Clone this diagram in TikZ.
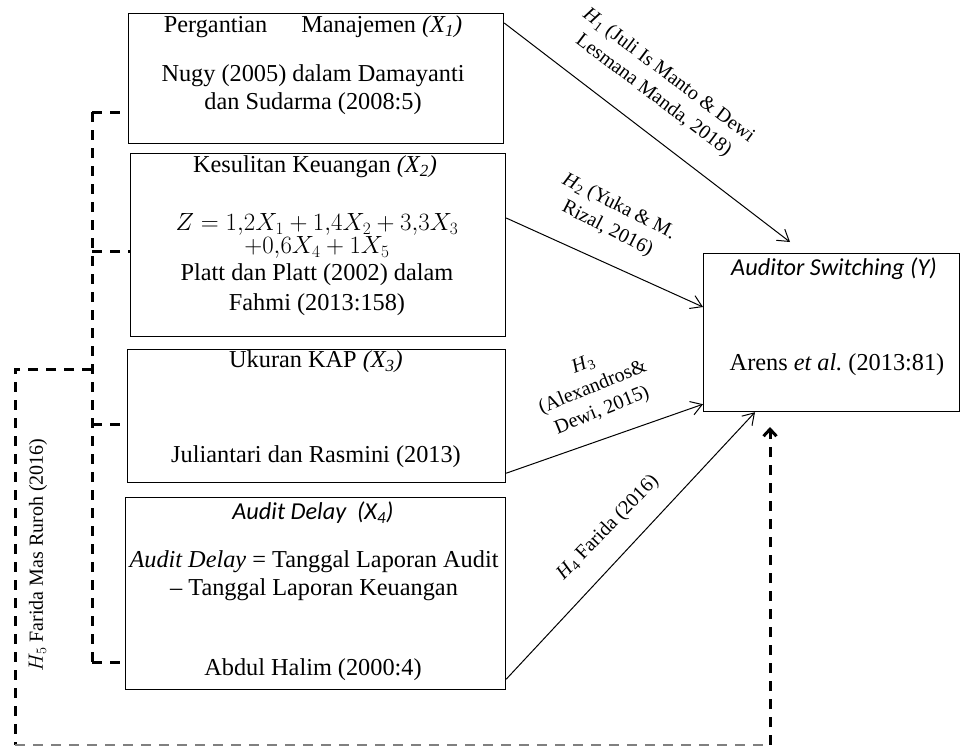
\documentclass[tikz,border=0pt]{standalone}
\usepackage{fontspec}
\setmainfont{Liberation Serif}
\newfontfamily\carl{Carlito}
\usetikzlibrary{arrows.meta}
\begin{document}
\begin{tikzpicture}[x=1pt,y=-1pt,
  box/.style={draw, line width=1.2pt, inner sep=0pt, anchor=north west},
  txt/.style={font=\fontsize{24.3}{28}\selectfont, align=center, inner sep=0pt},
  sanstxt/.style={font=\fontsize{24.3}{28}\selectfont\carl\itshape, align=center, inner sep=0pt},
  lbl/.style={font=\fontsize{20}{25}\selectfont, align=center, inner sep=0pt},
  arr/.style={-{Straight Barb[length=11pt,width=14pt]}, line width=1pt},
  dsh/.style={line width=3pt, dash pattern=on 10pt off 8pt}]
\useasboundingbox (0,0) rectangle (960,748);

% boxes
\node[box, minimum width=375pt, minimum height=130pt] (b1) at (128,13) {};
\node[box, minimum width=375pt, minimum height=183pt] (b2) at (130,153) {};
\node[box, minimum width=378pt, minimum height=133pt] (b3) at (127,349) {};
\node[box, minimum width=380pt, minimum height=192pt] (b4) at (125,497) {};
\node[box, minimum width=256pt, minimum height=158pt] (y) at (703,253) {};

% box texts
\node[txt] (b1t) at (313,27) {Pergantian\hspace{34pt}Manajemen \textit{(X\textsubscript{1})}};
\node[txt] (b1s) at (313,90) {Nugy (2005) dalam Damayanti\\dan Sudarma (2008:5)};

\node[txt] (b2t) at (315,167) {Kesulitan Keuangan \textit{(X\textsubscript{2})}};
\node[txt, font=\fontsize{24.3}{23}\selectfont] (b2f) at (317,236) {$Z = 1{,}2X_1 + 1{,}4X_2 + 3{,}3X_3$\\$+0{,}6X_4 + 1X_5$};
\node[txt, font=\fontsize{24.3}{30}\selectfont] (b2s) at (317,290) {Platt dan Platt (2002) dalam\\Fahmi (2013:158)};

\node[txt] (b3t) at (316,362) {Ukuran KAP \textit{(X\textsubscript{3})}};
\node[txt] (b3s) at (316,457) {Juliantari dan Rasmini (2013)};

\node[sanstxt] (b4t) at (313,513) {Audit Delay\ \ (X\textsubscript{4})};
\node[txt] (b4f) at (314,576) {\textit{Audit Delay} = Tanggal Laporan Audit\\– Tanggal Laporan Keuangan};
\node[txt] (b4s) at (313,670) {Abdul Halim (2000:4)};

\node[sanstxt] (yt) at (834,269) {Auditor Switching (Y)};
\node[txt] (ys) at (837,365) {Arens \textit{et al.}\ (2013:81)};

% arrows
\coordinate (t1) at (790,242);
\draw[arr] ([yshift=-10pt]b1.north east) -- (t1);
\draw[arr] ([yshift=-65pt]b2.north east) -- ([yshift=-54pt]y.north west);
\draw[arr] ([yshift=10pt]b3.south east) -- ([yshift=8pt]y.south west);
\draw[arr] ([yshift=11pt]b4.south east) -- ([xshift=52pt]y.south west);

% labels
\node[lbl, rotate=-37] (l1) at (661,86) {\textit{H}\textsubscript{1} (Juli Is Manto \& Dewi\\Lesmana Manda, 2018)};
\node[lbl, rotate=-27] (l2) at (613,218) {\textit{H}\textsubscript{2} (Yuka \& M.\\Rizal, 2016)};
\node[lbl, rotate=22] (l3) at (593,388) {\textit{H}\textsubscript{3}\\(Alexandros\&\\Dewi, 2015)};
\node[lbl, rotate=46] (l4) at (608,528) {\textit{H}\textsubscript{4} Farida (2016)};
\node[lbl, rotate=90] (l5) at (38,555) {$H_5$ Farida Mas Ruroh (2016)};

% dashed connectors
\coordinate (v1) at (92,112);
\coordinate (v2) at (92,251);
\coordinate (v3) at (92,424);
\coordinate (v4) at (92,662);
\draw[dsh] (v1) -- (v4);
\draw[dsh] (v1) -- (b1.west |- v1);
\draw[dsh] (v2) -- (b2.west |- v2);
\draw[dsh] (v3) -- (b3.west |- v3);
\draw[dsh] (v4) -- (b4.west |- v4);

\coordinate (o1) at (92,369);
\coordinate (o2) at (15,369);
\coordinate (o3) at (15,745);
\coordinate (o4) at (770,745);
\coordinate (o5) at (770,427);
\draw[dsh] (o1) -- (o2) -- (o3);
\draw[dsh, gray, line width=1.8pt] (o3) -- (o4);
\draw[dsh, -{Straight Barb[length=7pt,width=13pt]}] (o4) -- (o5);
\end{tikzpicture}
\end{document}
